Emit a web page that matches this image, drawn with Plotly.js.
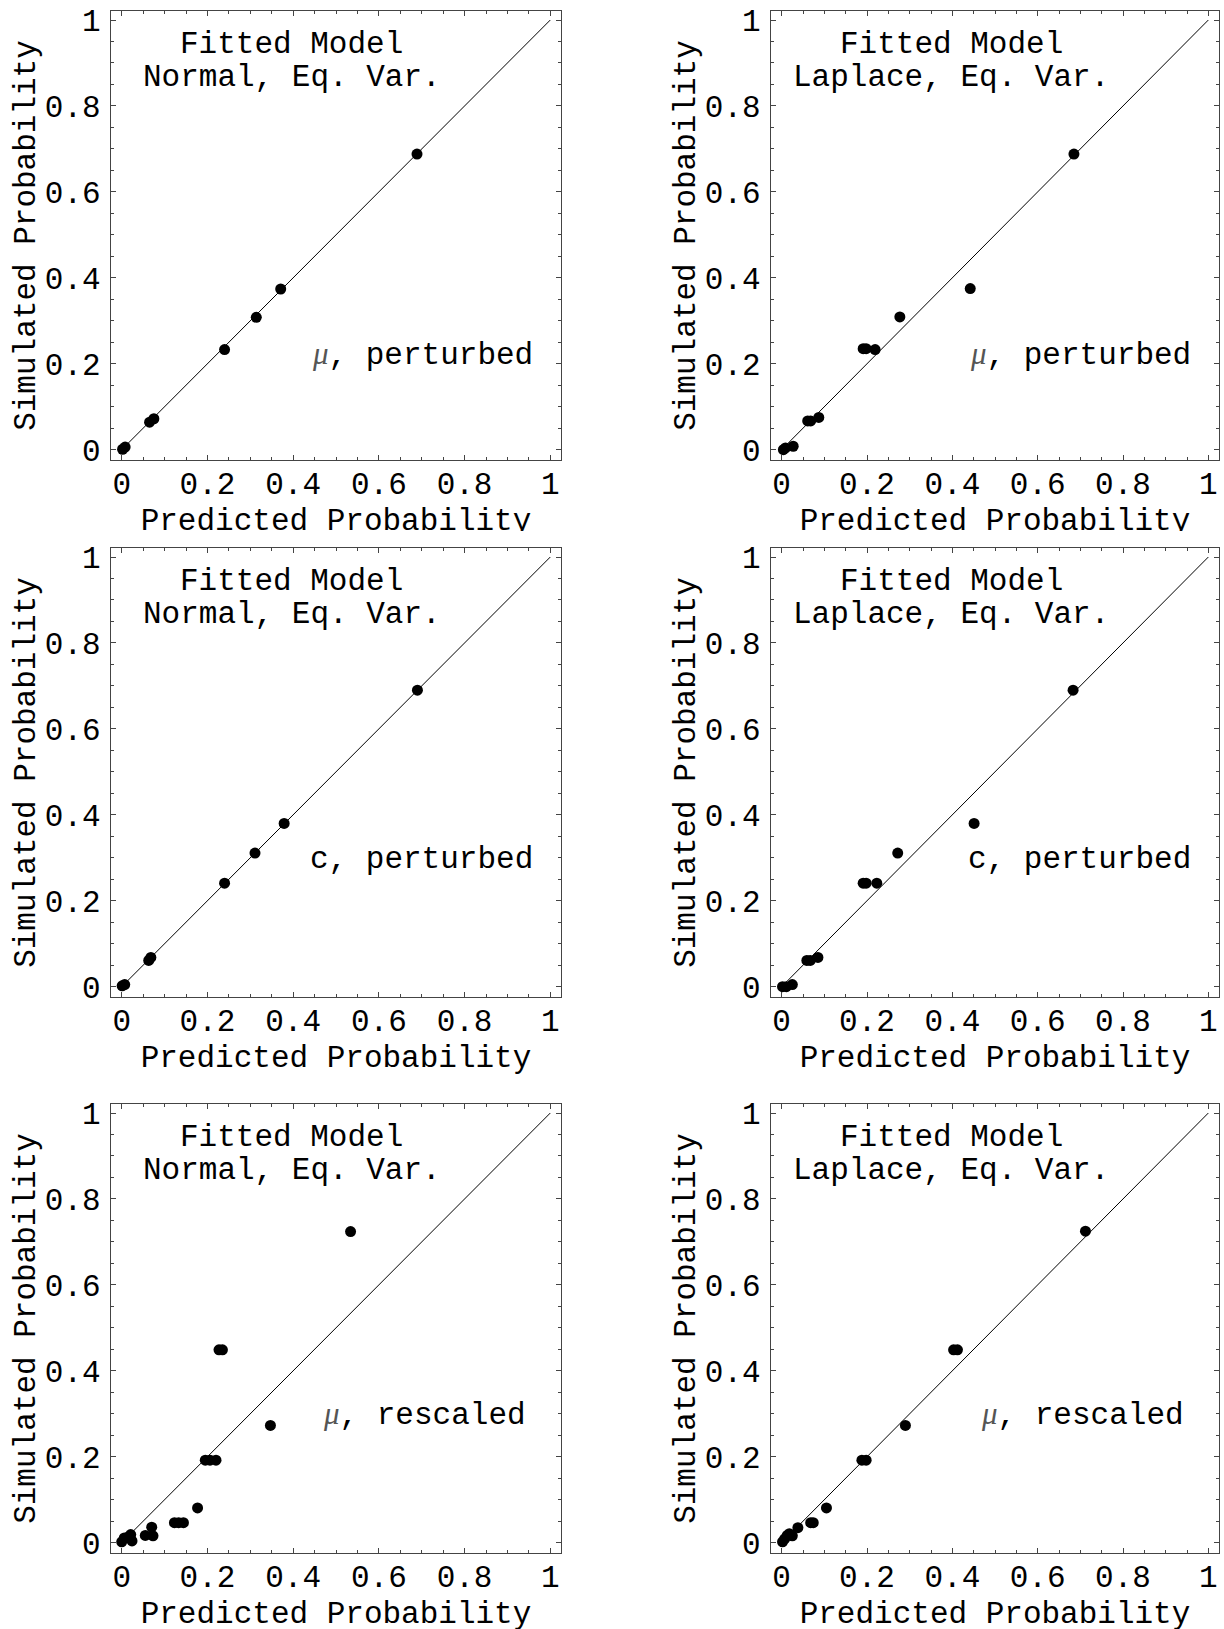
<!DOCTYPE html>
<html>
<head>
<meta charset="utf-8">
<script src="https://cdn.plot.ly/plotly-3.0.1.min.js"></script>
<style>
  html, body { margin: 0; padding: 0; background: #fff; }
  body { width: 1224px; height: 1629px; position: relative; overflow: hidden; }
  .panel { position: absolute; overflow: hidden; }
</style>
</head>
<body>
<div id="p1" class="panel"></div>
<div id="p2" class="panel"></div>
<div id="p3" class="panel"></div>
<div id="p4" class="panel"></div>
<div id="p5" class="panel"></div>
<div id="p6" class="panel"></div>
<script>
// ---------------- DATA ----------------
const tickVals = [0, 0.2, 0.4, 0.6, 0.8, 1];
const tickText = ["0", "0.2", "0.4", "0.6", "0.8", "1"];
const refX = [0, 1];
const refY = [0, 1];

const xTitle = "Predicted Probability";
const yTitle = "Simulated Probability";
const headLine1 = "Fitted Model";
const modelNormal = "Normal, Eq. Var.";
const modelLaplace = "Laplace, Eq. Var.";

// Panel 1: Normal, mu perturbed
const normMuPertX = [0.002, 0.008, 0.065, 0.075, 0.240, 0.314, 0.371, 0.689];
const normMuPertY = [0.001, 0.006, 0.064, 0.072, 0.233, 0.308, 0.374, 0.688];
// Panel 2: Laplace, mu perturbed
const lapMuPertX = [0.004, 0.009, 0.027, 0.061, 0.068, 0.087, 0.191, 0.198, 0.219, 0.277, 0.442, 0.685];
const lapMuPertY = [0.000, 0.004, 0.008, 0.067, 0.067, 0.075, 0.235, 0.235, 0.233, 0.309, 0.375, 0.688];
// Panel 3: Normal, c perturbed
const normCPertX = [0.001, 0.007, 0.063, 0.068, 0.240, 0.311, 0.379, 0.690];
const normCPertY = [0.002, 0.005, 0.061, 0.068, 0.241, 0.311, 0.380, 0.690];
// Panel 4: Laplace, c perturbed
const lapCPertX = [0.002, 0.011, 0.025, 0.059, 0.067, 0.085, 0.191, 0.198, 0.223, 0.272, 0.451, 0.683];
const lapCPertY = [0.000, 0.000, 0.005, 0.061, 0.061, 0.068, 0.241, 0.241, 0.241, 0.311, 0.380, 0.690];
// Panel 5: Normal, mu rescaled
const normMuRescX = [0.000, 0.006, 0.015, 0.021, 0.024, 0.055, 0.073, 0.070, 0.123, 0.133, 0.144, 0.177, 0.195, 0.206, 0.220, 0.227, 0.235, 0.347, 0.534];
const normMuRescY = [0.002, 0.011, 0.013, 0.019, 0.004, 0.017, 0.016, 0.036, 0.0465, 0.0465, 0.0465, 0.081, 0.192, 0.192, 0.192, 0.449, 0.449, 0.273, 0.724];
// Panel 6: Laplace, mu rescaled
const lapMuRescX = [0.002, 0.007, 0.013, 0.018, 0.025, 0.038, 0.068, 0.074, 0.105, 0.188, 0.198, 0.290, 0.403, 0.412, 0.712];
const lapMuRescY = [0.002, 0.009, 0.017, 0.021, 0.016, 0.035, 0.0465, 0.0465, 0.081, 0.192, 0.192, 0.273, 0.449, 0.449, 0.725];

// ---------------- STYLE / LAYOUT ----------------
const FONT = "'Liberation Mono', 'Courier New', Courier, monospace";
const FS = 31;
const MU = "<span style=\"font-family:'Liberation Serif','Times New Roman',serif;font-style:italic;fill:#555\">μ</span>";

const cols = [
  { left: 0,   width: 612, l: 111, r: 51 },
  { left: 612, width: 612, l: 159, r: 5 }
];
// div height clips the figure (figure is always t + 449 + 96 tall)
const rows = [
  { top: 0,    clip: 531, t: 11 },
  { top: 531,  clip: 562, t: 17 },
  { top: 1093, clip: 536, t: 11 }
];
const PLOT_H = 449, BOTTOM = 96;

function makeAxis(isX) {
  return {
    range: isX ? [-0.025, 1.025] : [-0.024, 1.021],
    tickmode: 'array', tickvals: tickVals, ticktext: tickText,
    ticks: 'inside', ticklen: 5, tickwidth: 1, tickcolor: '#444',
    minor: { tickmode: 'linear', tick0: 0, dtick: 0.05, ticks: 'inside', ticklen: 3, tickwidth: 1, tickcolor: '#444', showgrid: false },
    showline: true, linecolor: '#444', linewidth: 1.2, mirror: 'ticks',
    showgrid: false, zeroline: false,
    tickfont: { family: FONT, size: FS, color: '#000' },
    ticklabelstandoff: isX ? -4 : 3,
    title: { text: isX ? xTitle : yTitle, font: { family: FONT, size: FS, color: '#000' }, standoff: isX ? 5 : 0 },
    automargin: false, fixedrange: true
  };
}

function drawPanel(id, col, row, xs, ys, model, caption, capX, capY) {
  const el = document.getElementById(id);
  const figH = rows[row].t + PLOT_H + BOTTOM;
  el.style.left = cols[col].left + 'px';
  el.style.top = rows[row].top + 'px';
  el.style.width = cols[col].width + 'px';
  el.style.height = rows[row].clip + 'px';
  const traces = [
    { x: refX, y: refY, mode: 'lines', line: { color: '#000', width: 1 }, hoverinfo: 'skip' },
    { x: xs, y: ys, mode: 'markers', marker: { color: '#000', size: 11 }, cliponaxis: false }
  ];
  const layout = {
    width: cols[col].width, height: figH,
    margin: { l: cols[col].l, r: cols[col].r, t: rows[row].t, b: BOTTOM, pad: 0 },
    paper_bgcolor: 'rgba(0,0,0,0)', plot_bgcolor: '#fff',
    showlegend: false,
    xaxis: makeAxis(true),
    yaxis: makeAxis(false),
    annotations: [
      { x: 0.397, y: 0.943, xref: 'x', yref: 'y', text: headLine1, showarrow: false, xanchor: 'center', yanchor: 'middle', font: { family: FONT, size: FS, color: '#000' } },
      { x: 0.397, y: 0.867, xref: 'x', yref: 'y', text: model, showarrow: false, xanchor: 'center', yanchor: 'middle', font: { family: FONT, size: FS, color: '#000' } },
      { x: capX, y: capY, xref: 'x', yref: 'y', text: caption, showarrow: false, xanchor: 'right', yanchor: 'middle', font: { family: FONT, size: FS, color: '#000' } }
    ]
  };
  Plotly.newPlot(el, traces, layout, { staticPlot: true, displayModeBar: false });
}

drawPanel('p1', 0, 0, normMuPertX, normMuPertY, modelNormal, MU + ", perturbed", 0.964, 0.221);
drawPanel('p2', 1, 0, lapMuPertX, lapMuPertY, modelLaplace, MU + ", perturbed", 0.964, 0.221);
drawPanel('p3', 0, 1, normCPertX, normCPertY, modelNormal, "c, perturbed", 0.964, 0.297);
drawPanel('p4', 1, 1, lapCPertX, lapCPertY, modelLaplace, "c, perturbed", 0.964, 0.297);
drawPanel('p5', 0, 2, normMuRescX, normMuRescY, modelNormal, MU + ", rescaled", 0.947, 0.298);
drawPanel('p6', 1, 2, lapMuRescX, lapMuRescY, modelLaplace, MU + ", rescaled", 0.947, 0.298);
</script>
</body>
</html>
